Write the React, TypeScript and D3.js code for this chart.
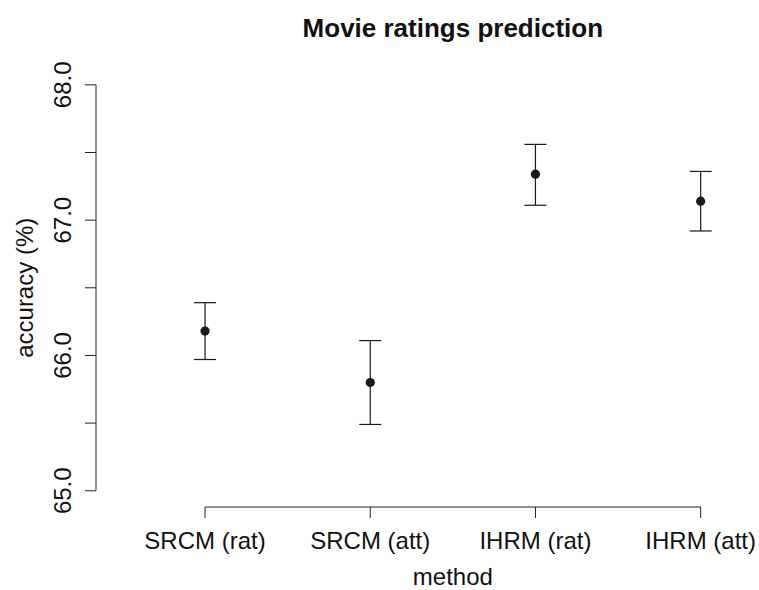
import React from "react";
import * as d3 from "d3";

const methods = ["SRCM (rat)", "SRCM (att)", "IHRM (rat)", "IHRM (att)"];
const means = [66.18, 65.8, 67.34, 67.14];
const lowers = [65.97, 65.49, 67.11, 66.92];
const uppers = [66.39, 66.11, 67.56, 67.36];
const yTicks = [65, 65.5, 66, 66.5, 67, 67.5, 68];
const yTickLabels = [65, 66, 67, 68];

const W = 759;
const H = 590;
const FONT = "'Liberation Sans', Arial, Helvetica, sans-serif";

export default function App() {
  // R-style 4% axis extension
  const xDom: [number, number] = [0.5, 4.5];
  const xExt = (xDom[1] - xDom[0]) * 0.04;
  const x = d3
    .scaleLinear()
    .domain([xDom[0] - xExt, xDom[1] + xExt])
    .range([96, 809.7]);
  const yDom: [number, number] = [65, 68];
  const yExt = (yDom[1] - yDom[0]) * 0.04;
  const y = d3
    .scaleLinear()
    .domain([yDom[0] - yExt, yDom[1] + yExt])
    .range([507, 68.6]);

  const axisColor = "#222";
  const plotLeft = x.range()[0];
  const plotBottom = y.range()[0];
  const cx = (x.range()[0] + x.range()[1]) / 2;
  const cy = (y.range()[0] + y.range()[1]) / 2;
  const capHalf = 11;
  const xi = methods.map((_, i) => i + 1);

  return (
    <svg
      width={W}
      height={H}
      style={{ position: "absolute", left: 0, top: 0, background: "#fff" }}
      fontFamily={FONT}
    >
      <rect x={0} y={0} width={W} height={H} fill="#fff" />
      {/* Title */}
      <text x={cx} y={37} textAnchor="middle" fontSize={26} fontWeight="bold" fill="#111">
        Movie ratings prediction
      </text>

      {/* Y axis */}
      <line
        x1={plotLeft}
        x2={plotLeft}
        y1={y(yTicks[0])}
        y2={y(yTicks[yTicks.length - 1])}
        stroke={axisColor}
        strokeWidth={1}
      />
      {yTicks.map((t) => (
        <line key={"yt" + t} x1={plotLeft - 11} x2={plotLeft} y1={y(t)} y2={y(t)} stroke={axisColor} strokeWidth={1} />
      ))}
      {yTickLabels.map((t) => (
        <text
          key={"yl" + t}
          transform={`translate(71,${y(t)}) rotate(-90)`}
          textAnchor="middle"
          fontSize={24}
          fill="#111"
        >
          {t.toFixed(1)}
        </text>
      ))}
      <text
        transform={`translate(33,${cy}) rotate(-90)`}
        textAnchor="middle"
        fontSize={24}
        fill="#111"
      >
        accuracy (%)
      </text>

      {/* X axis */}
      <line
        x1={x(xi[0])}
        x2={x(xi[xi.length - 1])}
        y1={plotBottom}
        y2={plotBottom}
        stroke={axisColor}
        strokeWidth={1}
      />
      {xi.map((v, i) => (
        <g key={"xt" + i}>
          <line x1={x(v)} x2={x(v)} y1={plotBottom} y2={plotBottom + 11} stroke={axisColor} strokeWidth={1} />
          <text x={x(v)} y={549} textAnchor="middle" fontSize={24} fill="#111">
            {methods[i]}
          </text>
        </g>
      ))}
      <text x={cx} y={585} textAnchor="middle" fontSize={24} fill="#111">
        method
      </text>

      {/* Error bars */}
      {xi.map((v, i) => (
        <g key={"eb" + i} stroke="#1a1a1a" strokeWidth={1.2}>
          <line x1={x(v)} x2={x(v)} y1={y(lowers[i])} y2={y(uppers[i])} />
          <line x1={x(v) - capHalf} x2={x(v) + capHalf} y1={y(uppers[i])} y2={y(uppers[i])} />
          <line x1={x(v) - capHalf} x2={x(v) + capHalf} y1={y(lowers[i])} y2={y(lowers[i])} />
        </g>
      ))}
      {xi.map((v, i) => (
        <circle key={"pt" + i} cx={x(v)} cy={y(means[i])} r={4.6} fill="#1a1a1a" />
      ))}
    </svg>
  );
}
